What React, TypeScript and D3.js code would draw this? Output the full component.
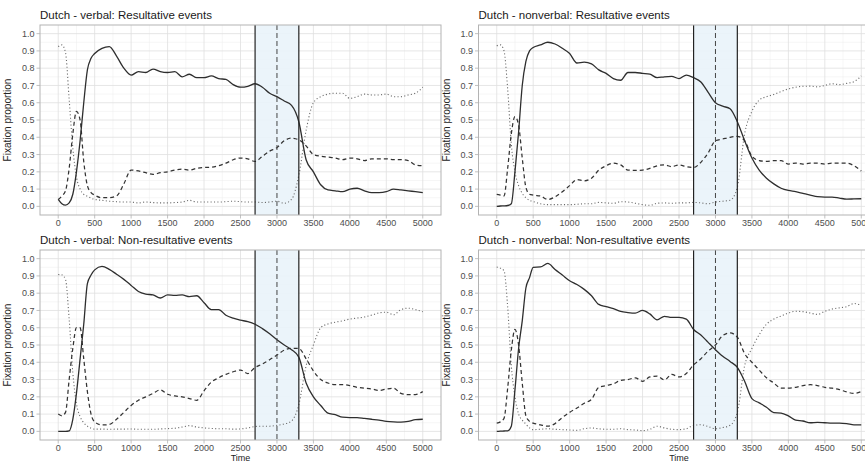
import React from 'react';
import * as d3 from 'd3';

const W = 865;
const H = 464;

// Time points (ms)
const TIME = [0, 50, 100, 150, 200, 250, 300, 350, 400, 450, 500, 600, 700, 800, 900, 1000, 1100, 1200, 1300, 1400, 1500, 1600, 1700, 1800, 1900, 2000, 2100, 2200, 2300, 2400, 2500, 2600, 2700, 2800, 2900, 3000, 3100, 3200, 3300, 3400, 3500, 3600, 3700, 3800, 3900, 4000, 4100, 4200, 4300, 4400, 4500, 4600, 4700, 4800, 4900, 5000];

const X_TICKS = [0, 500, 1000, 1500, 2000, 2500, 3000, 3500, 4000, 4500, 5000];
const Y_TICKS = [0, 0.1, 0.2, 0.3, 0.4, 0.5, 0.6, 0.7, 0.8, 0.9, 1.0];
const WINDOW = [2700, 3300];
const WINDOW_MID = 3000;

const TITLES = [
  'Dutch - verbal: Resultative events',
  'Dutch - nonverbal: Resultative events',
  'Dutch - verbal: Non-resultative events',
  'Dutch - nonverbal: Non-resultative events',
];

// Panel 1: verbal, resultative
const P1_SOLID = [0.04, 0.015, 0.007, 0.02, 0.07, 0.2, 0.38, 0.6, 0.79, 0.857, 0.885, 0.915, 0.925, 0.87, 0.8, 0.76, 0.78, 0.775, 0.795, 0.78, 0.775, 0.78, 0.75, 0.765, 0.745, 0.745, 0.755, 0.74, 0.735, 0.705, 0.69, 0.695, 0.71, 0.69, 0.655, 0.635, 0.61, 0.585, 0.49, 0.27, 0.2, 0.125, 0.095, 0.09, 0.085, 0.1, 0.105, 0.09, 0.08, 0.08, 0.085, 0.1, 0.095, 0.09, 0.085, 0.08];
const P1_DASHED = [0.04, 0.06, 0.09, 0.22, 0.42, 0.55, 0.5, 0.26, 0.12, 0.08, 0.065, 0.05, 0.05, 0.06, 0.13, 0.21, 0.205, 0.195, 0.185, 0.195, 0.2, 0.21, 0.215, 0.21, 0.22, 0.225, 0.227, 0.235, 0.25, 0.27, 0.28, 0.275, 0.26, 0.29, 0.32, 0.34, 0.38, 0.395, 0.385, 0.35, 0.3, 0.29, 0.285, 0.28, 0.27, 0.28, 0.275, 0.265, 0.275, 0.275, 0.275, 0.27, 0.27, 0.265, 0.24, 0.235];
const P1_DOTTED = [0.925, 0.935, 0.89, 0.62, 0.34, 0.17, 0.1, 0.07, 0.058, 0.048, 0.04, 0.035, 0.03, 0.027, 0.025, 0.025, 0.02, 0.025, 0.022, 0.02, 0.02, 0.022, 0.025, 0.035, 0.025, 0.025, 0.025, 0.025, 0.027, 0.03, 0.027, 0.025, 0.025, 0.022, 0.025, 0.03, 0.018, 0.04, 0.18, 0.44, 0.6, 0.635, 0.65, 0.655, 0.655, 0.625, 0.635, 0.65, 0.645, 0.645, 0.65, 0.635, 0.635, 0.645, 0.655, 0.69];

// Panel 2: nonverbal, resultative
const P2_SOLID = [0.0, 0.002, 0.003, 0.005, 0.015, 0.2, 0.43, 0.7, 0.84, 0.9, 0.92, 0.935, 0.95, 0.94, 0.915, 0.885, 0.83, 0.835, 0.825, 0.79, 0.77, 0.74, 0.73, 0.775, 0.775, 0.77, 0.765, 0.745, 0.75, 0.752, 0.74, 0.76, 0.745, 0.72, 0.66, 0.6, 0.58, 0.565, 0.49, 0.38, 0.28, 0.21, 0.163, 0.13, 0.105, 0.092, 0.085, 0.075, 0.065, 0.056, 0.054, 0.054, 0.048, 0.042, 0.043, 0.044];
const P2_DASHED = [0.07, 0.065, 0.06, 0.22, 0.42, 0.52, 0.47, 0.28, 0.11, 0.07, 0.065, 0.06, 0.04, 0.055, 0.085, 0.12, 0.155, 0.148, 0.163, 0.21, 0.235, 0.25, 0.24, 0.21, 0.208, 0.21, 0.22, 0.235, 0.24, 0.23, 0.24, 0.23, 0.225, 0.255, 0.31, 0.38, 0.39, 0.4, 0.405, 0.38, 0.29, 0.265, 0.26, 0.265, 0.265, 0.245, 0.25, 0.245, 0.25, 0.25, 0.245, 0.25, 0.25, 0.25, 0.235, 0.205];
const P2_DOTTED = [0.93, 0.935, 0.9, 0.68, 0.36, 0.2, 0.12, 0.075, 0.05, 0.035, 0.028, 0.015, 0.01, 0.01, 0.01, 0.01, 0.012, 0.015, 0.015, 0.023, 0.02, 0.018, 0.027, 0.025, 0.018, 0.01, 0.006, 0.018, 0.02, 0.018, 0.02, 0.02, 0.023, 0.02, 0.015, 0.025, 0.03, 0.035, 0.11, 0.42, 0.55, 0.615, 0.635, 0.648, 0.665, 0.68, 0.69, 0.695, 0.696, 0.692, 0.7, 0.71, 0.705, 0.712, 0.722, 0.755];

// Panel 3: verbal, non-resultative
const P3_SOLID = [0.0, 0.0, 0.0, 0.003, 0.07, 0.22, 0.42, 0.62, 0.855, 0.905, 0.935, 0.955, 0.938, 0.91, 0.88, 0.845, 0.81, 0.795, 0.79, 0.772, 0.79, 0.787, 0.79, 0.78, 0.785, 0.745, 0.705, 0.705, 0.672, 0.655, 0.644, 0.635, 0.62, 0.595, 0.565, 0.53, 0.5, 0.473, 0.43, 0.28, 0.2, 0.15, 0.105, 0.097, 0.082, 0.08, 0.08, 0.075, 0.07, 0.065, 0.058, 0.055, 0.054, 0.058, 0.068, 0.07];
const P3_DASHED = [0.1, 0.09, 0.11, 0.3, 0.48, 0.6, 0.6, 0.42, 0.23, 0.1, 0.055, 0.037, 0.04, 0.07, 0.11, 0.15, 0.18, 0.2, 0.22, 0.24, 0.215, 0.205, 0.2, 0.19, 0.18, 0.235, 0.285, 0.31, 0.33, 0.345, 0.355, 0.335, 0.37, 0.39, 0.415, 0.442, 0.47, 0.48, 0.48, 0.42, 0.35, 0.3, 0.28, 0.27, 0.27, 0.265, 0.255, 0.25, 0.245, 0.237, 0.245, 0.25, 0.22, 0.212, 0.213, 0.23];
const P3_DOTTED = [0.908, 0.906, 0.88, 0.65, 0.34, 0.16, 0.085, 0.05, 0.03, 0.018, 0.013, 0.013, 0.012, 0.013, 0.013, 0.014, 0.012, 0.012, 0.012, 0.014, 0.016, 0.018, 0.025, 0.033, 0.025, 0.02, 0.017, 0.015, 0.015, 0.013, 0.014, 0.02, 0.028, 0.03, 0.03, 0.035, 0.043, 0.06, 0.155, 0.38, 0.5, 0.6, 0.622, 0.632, 0.64, 0.65, 0.656, 0.662, 0.673, 0.686, 0.69, 0.675, 0.705, 0.713, 0.705, 0.693];

// Panel 4: nonverbal, non-resultative
const P4_SOLID = [0.0, 0.001, 0.002, 0.003, 0.03, 0.24, 0.48, 0.64, 0.83, 0.89, 0.95, 0.952, 0.972, 0.937, 0.905, 0.872, 0.85, 0.822, 0.785, 0.735, 0.722, 0.71, 0.694, 0.688, 0.685, 0.7, 0.68, 0.646, 0.666, 0.66, 0.66, 0.65, 0.59, 0.558, 0.515, 0.473, 0.435, 0.405, 0.37, 0.29, 0.19, 0.165, 0.14, 0.108, 0.106, 0.09, 0.065, 0.06, 0.05, 0.052, 0.05, 0.048, 0.048, 0.045, 0.038, 0.038];
const P4_DASHED = [0.048, 0.055, 0.075, 0.25, 0.47, 0.59, 0.5, 0.28, 0.09, 0.058, 0.048, 0.038, 0.03, 0.045, 0.08, 0.11, 0.135, 0.163, 0.185, 0.255, 0.265, 0.275, 0.295, 0.3, 0.31, 0.29, 0.315, 0.32, 0.298, 0.33, 0.315, 0.335, 0.385, 0.42, 0.465, 0.5, 0.555, 0.57, 0.545, 0.45, 0.4, 0.355, 0.31, 0.28, 0.25, 0.25, 0.255, 0.265, 0.27, 0.265, 0.255, 0.25, 0.242, 0.228, 0.22, 0.23];
const P4_DOTTED = [0.952, 0.945, 0.93, 0.72, 0.38, 0.2, 0.1, 0.065, 0.042, 0.02, 0.01, 0.012, 0.015, 0.012, 0.01, 0.008, 0.006, 0.015, 0.02, 0.015, 0.012, 0.012, 0.015, 0.01, 0.008, 0.004, 0.012, 0.03, 0.02, 0.012, 0.01, 0.015, 0.035, 0.038, 0.028, 0.015, 0.022, 0.035, 0.11, 0.38, 0.48, 0.56, 0.62, 0.65, 0.668, 0.685, 0.695, 0.693, 0.685, 0.677, 0.695, 0.708, 0.715, 0.722, 0.74, 0.73];

const PANELS = [
  { title: TITLES[0], solid: P1_SOLID, dashed: P1_DASHED, dotted: P1_DOTTED, col: 0, row: 0 },
  { title: TITLES[1], solid: P2_SOLID, dashed: P2_DASHED, dotted: P2_DOTTED, col: 1, row: 0 },
  { title: TITLES[2], solid: P3_SOLID, dashed: P3_DASHED, dotted: P3_DOTTED, col: 0, row: 1 },
  { title: TITLES[3], solid: P4_SOLID, dashed: P4_DASHED, dotted: P4_DOTTED, col: 1, row: 1 },
];

const COL_LEFT = [40, 478.5];
const ROW_TOP = [25, 250];
const PW = 401;
const PH = 190;
const FONT = 'Liberation Sans, Arial, Helvetica, sans-serif';

function Panel({ p, idx }: { p: any; idx: number }) {
  const left = COL_LEFT[p.col];
  const top = ROW_TOP[p.row];
  const x = d3.scaleLinear().domain([-250, 5250]).range([left, left + PW]);
  const y = d3.scaleLinear().domain([-0.05, 1.05]).range([top + PH, top]);
  const line = d3
    .line<number>()
    .x((_, i) => x(TIME[i]))
    .y((d) => y(d))
    .curve(d3.curveMonotoneX);
  const minorX = X_TICKS.slice(0, -1).map((t) => t + 250);
  const minorY = Y_TICKS.slice(0, -1).map((t) => t + 0.05);
  const clipId = `clip-${idx}`;
  return (
    <g>
      <defs>
        <clipPath id={clipId}>
          <rect x={left} y={top} width={PW} height={PH} />
        </clipPath>
      </defs>
      <rect x={left} y={top} width={PW} height={PH} fill="#ffffff" />
      {minorX.map((t) => (
        <line key={'mx' + t} x1={x(t)} x2={x(t)} y1={top} y2={top + PH} stroke="#ededed" strokeWidth={0.5} />
      ))}
      {minorY.map((t) => (
        <line key={'my' + t} x1={left} x2={left + PW} y1={y(t)} y2={y(t)} stroke="#ededed" strokeWidth={0.5} />
      ))}
      {X_TICKS.map((t) => (
        <line key={'gx' + t} x1={x(t)} x2={x(t)} y1={top} y2={top + PH} stroke="#e0e0e0" strokeWidth={0.8} />
      ))}
      {Y_TICKS.map((t) => (
        <line key={'gy' + t} x1={left} x2={left + PW} y1={y(t)} y2={y(t)} stroke="#e0e0e0" strokeWidth={0.8} />
      ))}
      <rect
        x={x(WINDOW[0])}
        y={top}
        width={x(WINDOW[1]) - x(WINDOW[0])}
        height={PH}
        fill="#e9f3fa"
        opacity={0.9}
      />
      <g clipPath={`url(#${clipId})`}>
        <path d={line(p.dotted) || ''} fill="none" stroke="#6a6a6a" strokeWidth={1.1} strokeDasharray="1.1,2.3" />
        <path d={line(p.dashed) || ''} fill="none" stroke="#333" strokeWidth={1.25} strokeDasharray="4,3" />
        <path d={line(p.solid) || ''} fill="none" stroke="#2e2e2e" strokeWidth={1.3} />
      </g>
      <line x1={x(WINDOW[0])} x2={x(WINDOW[0])} y1={top} y2={top + PH} stroke="#222" strokeWidth={1.2} />
      <line x1={x(WINDOW[1])} x2={x(WINDOW[1])} y1={top} y2={top + PH} stroke="#222" strokeWidth={1.2} />
      <line x1={x(WINDOW_MID)} x2={x(WINDOW_MID)} y1={top} y2={top + PH} stroke="#444" strokeWidth={1} strokeDasharray="5,3" />
      <rect x={left} y={top} width={PW} height={PH} fill="none" stroke="#b3b3b3" strokeWidth={1} />
      {Y_TICKS.map((t) => (
        <g key={'yt' + t}>
          <line x1={left - 3.5} x2={left} y1={y(t)} y2={y(t)} stroke="#b3b3b3" strokeWidth={0.8} />
          <text x={left - 5.5} y={y(t)} dy="0.34em" textAnchor="end" fontSize={9} fill="#4d4d4d" fontFamily={FONT}>
            {t.toFixed(1)}
          </text>
        </g>
      ))}
      {X_TICKS.map((t) => (
        <g key={'xt' + t}>
          <line x1={x(t)} x2={x(t)} y1={top + PH} y2={top + PH + 3.5} stroke="#b3b3b3" strokeWidth={0.8} />
          <text x={x(t)} y={top + PH + 10.5} textAnchor="middle" fontSize={9} fill="#4d4d4d" fontFamily={FONT}>
            {t}
          </text>
        </g>
      ))}
      <text x={left} y={top - 6} fontSize={11.5} fill="#1a1a1a" fontFamily={FONT}>
        {p.title}
      </text>
      <text
        transform={`translate(${left - 29},${top + PH / 2}) rotate(-90)`}
        textAnchor="middle"
        fontSize={10}
        fill="#222"
        fontFamily={FONT}
      >
        Fixation proportion
      </text>
      {p.row === 1 && (
        <text x={x(2500)} y={top + PH + 21} textAnchor="middle" fontSize={9} fill="#222" fontFamily={FONT}>
          Time
        </text>
      )}
    </g>
  );
}

export default function App() {
  return (
    <svg
      width={W}
      height={H}
      viewBox={`0 0 ${W} ${H}`}
      style={{ position: 'absolute', left: 0, top: 0, display: 'block', background: '#ffffff' }}
    >
      <rect x={0} y={0} width={W} height={H} fill="#ffffff" />
      {PANELS.map((p, i) => (
        <Panel key={i} p={p} idx={i} />
      ))}
    </svg>
  );
}
